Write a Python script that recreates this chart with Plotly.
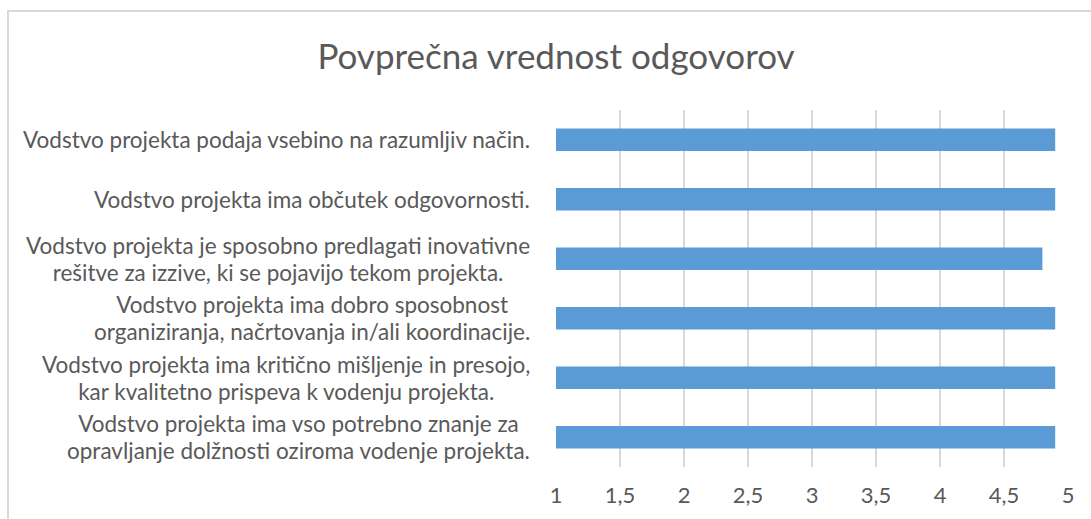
import plotly.graph_objects as go

categories = [
    "Vodstvo projekta podaja vsebino na razumljiv način.",
    "Vodstvo projekta ima občutek odgovornosti.",
    "Vodstvo projekta je sposobno predlagati inovativne<br>rešitve za izzive, ki se pojavijo tekom projekta.",
    "Vodstvo projekta ima dobro sposobnost<br>organiziranja, načrtovanja in/ali koordinacije.",
    "Vodstvo projekta ima kritično mišljenje in presojo,<br>kar kvalitetno prispeva k vodenju projekta.",
    "Vodstvo projekta ima vso potrebno znanje za<br>opravljanje dolžnosti oziroma vodenje projekta.",
]
values = [4.9, 4.9, 4.8, 4.9, 4.9, 4.9]
tick_vals = [1, 1.5, 2, 2.5, 3, 3.5, 4, 4.5, 5]
tick_text = ["1", "1,5", "2", "2,5", "3", "3,5", "4", "4,5", "5"]

ids = list(range(len(categories)))

TEXT = "#595959"
GRID = "#D9D9D9"
FONT = "Lato, Open Sans, sans-serif"
LABEL_SIZE = 22.5

fig = go.Figure(go.Bar(
    x=values, y=ids, orientation="h",
    marker=dict(color="#5B9BD5", line=dict(width=0)),
    hoverinfo="skip",
))

annotations = []
for i, c in enumerate(categories):
    lines = c.split("<br>")
    txt = "<br>".join('<span style="font-size:%spx">%s</span>' % (LABEL_SIZE, l) for l in lines)
    annotations.append(dict(
        x=0, xref="paper", y=i, yref="y", text=txt, showarrow=False,
        xanchor="right", yanchor="middle", align="center", xshift=-24,
        font=dict(family=FONT, size=20.8, color=TEXT),
    ))

fig.update_layout(
    width=1091, height=519,
    margin=dict(l=556, r=23, t=110, b=52),
    paper_bgcolor="white", plot_bgcolor="white",
    title=dict(text="Povprečna vrednost odgovorov", x=556/1091, xanchor="center",
               xref="container", y=1-57/519, yref="container", yanchor="middle",
               font=dict(family=FONT, size=35, color=TEXT)),
    font=dict(family=FONT, color=TEXT),
    bargap=0.625,
    showlegend=False,
    annotations=annotations,
    shapes=[dict(type="rect", xref="paper", yref="paper",
                 x0=(8-556)/512, x1=1.2, y0=-0.3, y1=1+(110-11)/357,
                 line=dict(color=GRID, width=2), fillcolor="rgba(0,0,0,0)", layer="below")],
)
fig.update_xaxes(range=[1, 5], tickvals=tick_vals, ticktext=tick_text,
                 showgrid=True, gridcolor=GRID, gridwidth=2, zeroline=False,
                 showline=False, ticks="", tickfont=dict(family=FONT, size=22, color=TEXT),
                 ticklabelstandoff=13, fixedrange=True)
fig.update_yaxes(tickvals=ids, showticklabels=False, autorange="reversed",
                 showgrid=False, zeroline=False, showline=False, fixedrange=True)

fig.write_html("out.html", config={"displayModeBar": False},
               post_script="document.body.style.margin='0';document.body.style.overflow='hidden';")
